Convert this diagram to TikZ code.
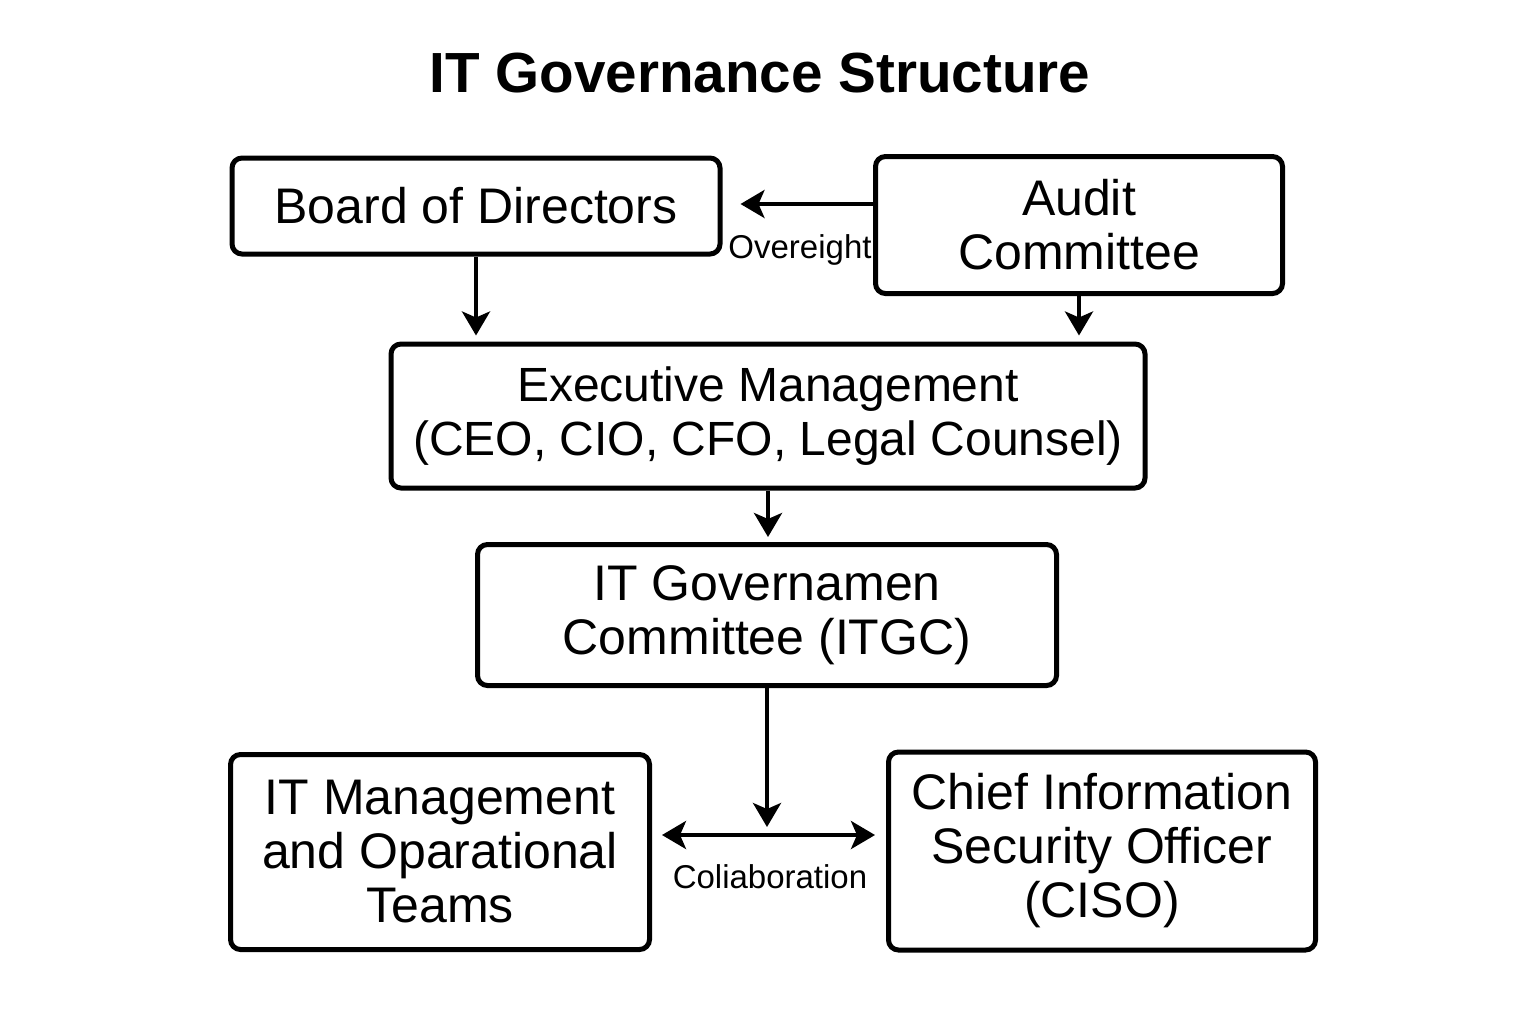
\documentclass[tikz,border=0pt]{standalone}
\usepackage{fontspec}
\setmainfont{Liberation Sans}
\usetikzlibrary{arrows.meta}

\begin{document}
\begin{tikzpicture}[x=0.5pt,y=-0.5pt,>={Stealth[length=12pt,width=14pt,inset=3pt]},
  box/.style={draw,line width=2.5pt,rounded corners=5pt,align=center,inner sep=0pt,
    font=\fontsize{25}{27}\selectfont},
  link/.style={line width=2pt},
  lbl/.style={font=\fontsize{16.5}{18}\selectfont}]
  \useasboundingbox[fill=white] (0,0) rectangle (1536,1024);

  \node[font=\bfseries\fontsize{28.3}{30}\selectfont] (title) at (760,73) {IT Governance Structure};

  \node[box,minimum width=244pt,minimum height=48pt] (board) at (476,206) {Board of Directors};
  \node[box,minimum width=203.5pt,minimum height=68.5pt] (audit) at (1079,225) {Audit\\Committee};
  \node[box,minimum width=377pt,minimum height=72pt,font=\fontsize{24}{27}\selectfont] (exec) at (768,416) {Executive Management\\(CEO, CIO, CFO, Legal Counsel)};
  \node[box,minimum width=289.5pt,minimum height=70.5pt] (itgc) at (767,615) {IT Governamen\\Committee (ITGC)};
  \node[box,minimum width=209.5pt,minimum height=97.5pt] (itm) at (440,852) {IT Management\\and Oparational\\Teams};
  \node[box,minimum width=213.5pt,minimum height=99pt] (ciso) at (1102,851) {Chief Information\\Security Officer\\(CISO)};
  \coordinate (mid) at (768,835);

  \draw[link,->,shorten >=9pt] (audit.west |- 0,204) -- (board.east |- 0,204);
  \node[lbl] (oversight) at (800,250) {Overeight};
  \draw[link,->,shorten >=3pt] (board.south) -- (board.south |- exec.north);
  \draw[link,->,shorten >=3pt] (audit.south) -- (audit.south |- exec.north);
  \draw[link,->,shorten >=2.5pt] (exec.south) -- (exec.south |- itgc.north);
  \draw[link,->,shorten >=4pt] (itgc.south) -- (itgc.south |- mid);
  \draw[link,<->,shorten <=5pt,shorten >=5.5pt] (itm.east |- mid) -- (ciso.west |- mid);
  \node[lbl] (collab) at (770,877) {Coliaboration};
\end{tikzpicture}
\end{document}
